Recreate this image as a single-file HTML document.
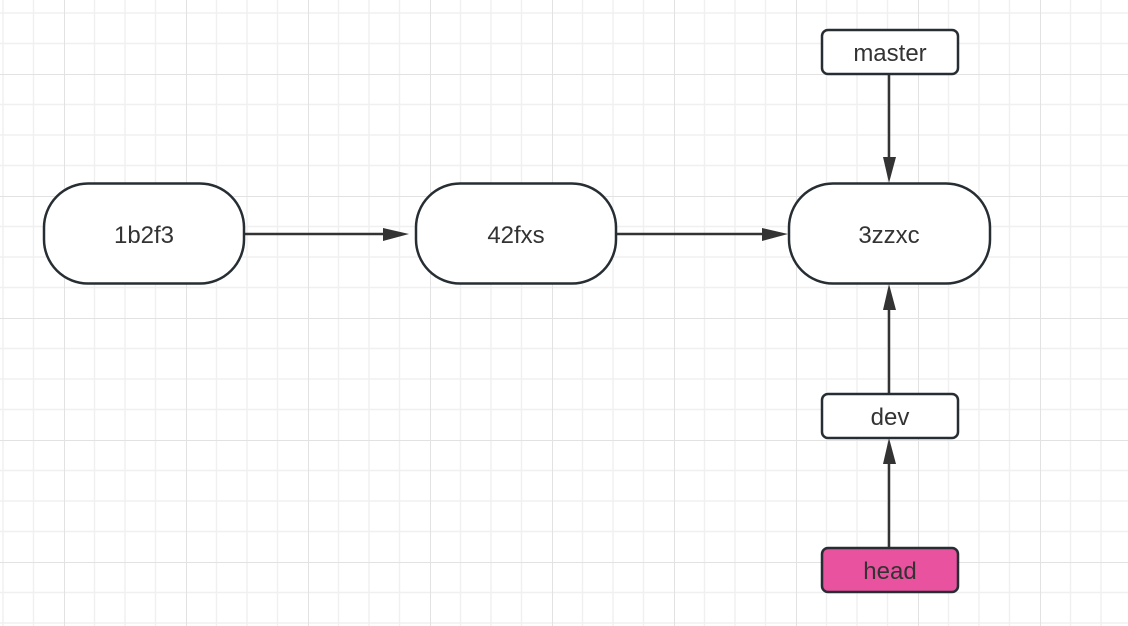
<!DOCTYPE html>
<html><head><meta charset="utf-8"><style>
html,body{margin:0;padding:0;background:#fff;}
svg{display:block;}
text{font-family:"Liberation Sans","Noto Sans CJK SC",sans-serif;fill:#333;}
</style></head><body>
<svg width="1128" height="626" viewBox="0 0 1128 626" xmlns="http://www.w3.org/2000/svg">
<defs>
<pattern id="g" x="64" y="74" width="122" height="122" patternUnits="userSpaceOnUse">
<g stroke="#f0f0f0" stroke-width="1.5">
<line x1="30.5" y1="0" x2="30.5" y2="122"/><line x1="61" y1="0" x2="61" y2="122"/><line x1="91.5" y1="0" x2="91.5" y2="122"/>
<line y1="30.5" x1="0" y2="30.5" x2="122"/><line y1="61" x1="0" y2="61" x2="122"/><line y1="91.5" x1="0" y2="91.5" x2="122"/>
</g>
<g stroke="#e2e2e2" stroke-width="2">
<line x1="0" y1="0" x2="0" y2="122"/><line x1="0" y1="0" x2="122" y2="0"/>
</g>
</pattern>
</defs>
<rect width="1128" height="626" fill="#fff"/>
<rect width="1128" height="626" fill="url(#g)"/>
<g stroke="#333" stroke-width="2.5" fill="none">
<line x1="244" y1="234" x2="386" y2="234"/>
<line x1="616" y1="234" x2="764" y2="234"/>
<line x1="889" y1="74" x2="889" y2="160"/>
<line x1="889" y1="394" x2="889" y2="310"/>
<line x1="889" y1="548" x2="889" y2="462"/>
</g>
<g fill="#333">
<polygon points="383,228 409,234 383,241"/>
<polygon points="762,228 788,234 762,241"/>
<polygon points="883,157 889,183 896,157"/>
<polygon points="883,310 889,284 896,310"/>
<polygon points="883,464 889,438 896,464"/>
</g>
<g stroke="#262d33" stroke-width="2.5" fill="#fff">
<rect x="44" y="183.5" width="200" height="100" rx="44" ry="44"/>
<rect x="416" y="183.5" width="200" height="100" rx="44" ry="44"/>
<rect x="789" y="183.5" width="201" height="100" rx="44" ry="44"/>
<rect x="822" y="30" width="136" height="44" rx="6"/>
<rect x="822" y="394" width="136" height="44" rx="6"/>
<rect x="822" y="548" width="136" height="44" rx="6" fill="#e8529f"/>
</g>
<g font-size="24" text-anchor="middle">
<text x="144" y="243">1b2f3</text>
<text x="516" y="243">42fxs</text>
<text x="889" y="243">3zzxc</text>
<text x="890" y="61">master</text>
<text x="890" y="425">dev</text>
<text x="890" y="579">head</text>
</g>
</svg>
</body></html>
